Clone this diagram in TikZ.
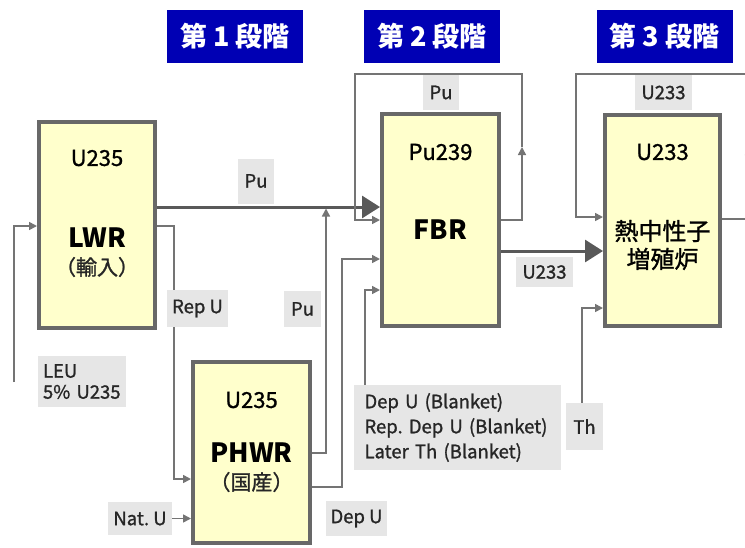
\documentclass[tikz,border=0pt]{standalone}
\usepackage{fontspec}
\setmainfont{Noto Sans CJK JP}
\newfontfamily\medfont[FakeBold=1.2]{Noto Sans CJK JP}
\usetikzlibrary{arrows.meta}
\definecolor{boxfill}{HTML}{FFFFCC}
\definecolor{boxline}{HTML}{686868}
\definecolor{connc}{HTML}{747474}
\definecolor{thickc}{HTML}{595959}
\definecolor{lblfill}{HTML}{E6E6E6}
\definecolor{titleblue}{HTML}{0000B4}
\pgfdeclarelayer{bg}
\pgfsetlayers{bg,main}
\frenchspacing
\begin{document}
\begin{tikzpicture}[x=1pt,y=-1pt,
  reactor/.style={draw=boxline, line width=4pt, fill=boxfill, inner sep=0pt},
  titlebox/.style={fill=titleblue, text=white, font=\fontsize{27}{30}\selectfont\bfseries, minimum width=136pt, minimum height=53pt, inner sep=0pt},
  lbl/.style={fill=lblfill, text=black!85, font=\medfont\fontsize{18.5}{21}\selectfont, inner sep=0pt},
  rtxt/.style={text=black, font=\medfont\fontsize{22}{24}\selectfont, inner sep=0pt},
  rname/.style={text=black, font=\fontsize{26.5}{28}\selectfont\bfseries, inner sep=0pt},
  rsub/.style={text=black!85, font=\medfont\fontsize{21}{22}\selectfont, inner sep=0pt},
  rjp/.style={text=black, font=\medfont\fontsize{24}{28}\selectfont, inner sep=0pt, align=center},
  thin/.style={draw=connc, line width=1.6pt},
  heavy/.style={draw=thickc, line width=3pt},
  sarrow/.style={-{Triangle[length=8pt,width=8pt]}},
  barrow/.style={-{Triangle[length=18pt,width=22pt]}}
]
\useasboundingbox (0,0) rectangle (745,547);

% stage titles
\node[titlebox] (t1) at (235,36.5) {第 1 段階};
\node[titlebox] (t2) at (432,36.5) {第 2 段階};
\node[titlebox] (t3) at (664.5,36.5) {第 3 段階};

% reactors
\node[reactor, minimum width=116pt, minimum height=206pt] (lwr) at (97,225) {};
\node[reactor, minimum width=117pt, minimum height=181pt] (phwr) at (251.5,452.5) {};
\node[reactor, minimum width=117pt, minimum height=212pt] (fbr) at (440.5,220) {};
\node[reactor, minimum width=115pt, minimum height=211pt] (thr) at (662.5,220.5) {};

\node[rtxt] (lwru) at (97,158) {U235};
\node[rname] (lwrn) at (97,238) {LWR};
\node[rsub] (lwrj) at (97,267) {（輸入）};
\node[rtxt] (phwru) at (251.5,400) {U235};
\node[rname] (phwrn) at (251.5,453) {PHWR};
\node[rsub] (phwrj) at (251.5,482) {（国産）};
\node[rtxt] (fbru) at (440.5,152) {Pu239};
\node[rname] (fbrn) at (440.5,230) {FBR};
\node[rtxt] (thru) at (662.5,152) {U233};
\node[rjp] (thrn) at (662.5,245) {熱中性子\\増殖炉};

% labels
\node[lbl, minimum width=36pt, minimum height=45pt] (lpu1) at (256,181) {Pu};
\node[lbl, minimum width=61pt, minimum height=37pt] (lrepu) at (197.5,308.5) {Rep U};
\node[lbl, minimum width=37pt, minimum height=36pt] (lpu2) at (302.5,309) {Pu};
\node[lbl, minimum height=51pt, inner xsep=5pt, text width=78pt, align=left] (lleu) at (82,381.5) {LEU\\5\% U235};
\node[lbl, minimum width=64pt, minimum height=33pt] (lnatu) at (140,518.5) {Nat. U};
\node[lbl, minimum width=61pt, minimum height=35pt] (ldepu) at (356.5,518.5) {Dep U};
\node[lbl, minimum height=85pt, inner xsep=10.5pt, text width=186pt, align=left, font=\medfont\fontsize{18.5}{25}\selectfont] (lblank) at (457.5,427.5) {Dep U (Blanket)\\Rep. Dep U (Blanket)\\Later Th (Blanket)};
\node[lbl, minimum width=37pt, minimum height=47pt] (lth) at (584.5,426.5) {Th};
\node[lbl, minimum width=57pt, minimum height=30pt] (lu233m) at (544.5,272) {U233};
\node[lbl, minimum width=36pt, minimum height=35pt] (lputop) at (441,92.5) {Pu};
\node[lbl, minimum width=57pt, minimum height=35pt] (lu233t) at (663.5,92.5) {U233};

% helper coordinates
\coordinate (lwrin) at (14,382);
\coordinate (pujoin) at (326,208.5);
\coordinate (fbrmid) at (522,147);
\coordinate (thrmid) at (749,147);

\begin{pgfonlayer}{bg}
\fill[white] (0,0) rectangle (745,547);
\draw[thin,sarrow] (lwrin) |- (lwr.west |- 0,226);
\draw[heavy,barrow] (lwr.east |- 0,207) -- (fbr.west |- 0,207);
\draw[thin,sarrow] (lwr.east |- 0,226) -- (174,226) |- (phwr.west |- 0,479);
\draw[thin,sarrow] (phwr.east |- 0,453) -| (pujoin);
\draw[thin,sarrow] (phwr.east |- 0,487) -- (342,487) |- (fbr.west |- 0,259);
\draw[thin,sarrow] (lblank.north -| 365,0) |- (fbr.west |- 0,290);
\draw[thin,sarrow] (fbr.east |- 0,220) -| (fbrmid);
\draw[thin,sarrow] (fbrmid) -- (522,74) -| (355,220) -- (fbr.west |- 0,220);
\draw[heavy,barrow] (fbr.east |- 0,251) -- (thr.west |- 0,251);
\draw[thin,sarrow] (thr.east |- 0,219) -| (thrmid);
\draw[thin,sarrow] (thrmid) -- (749,74) -| (576,217) -- (thr.west |- 0,217);
\draw[thin,sarrow] (lth.north -| 582,0) |- (thr.west |- 0,308);
\draw[thin,sarrow] (lnatu.east) -- (phwr.west |- lnatu.east);
\end{pgfonlayer}
\end{tikzpicture}
\end{document}
